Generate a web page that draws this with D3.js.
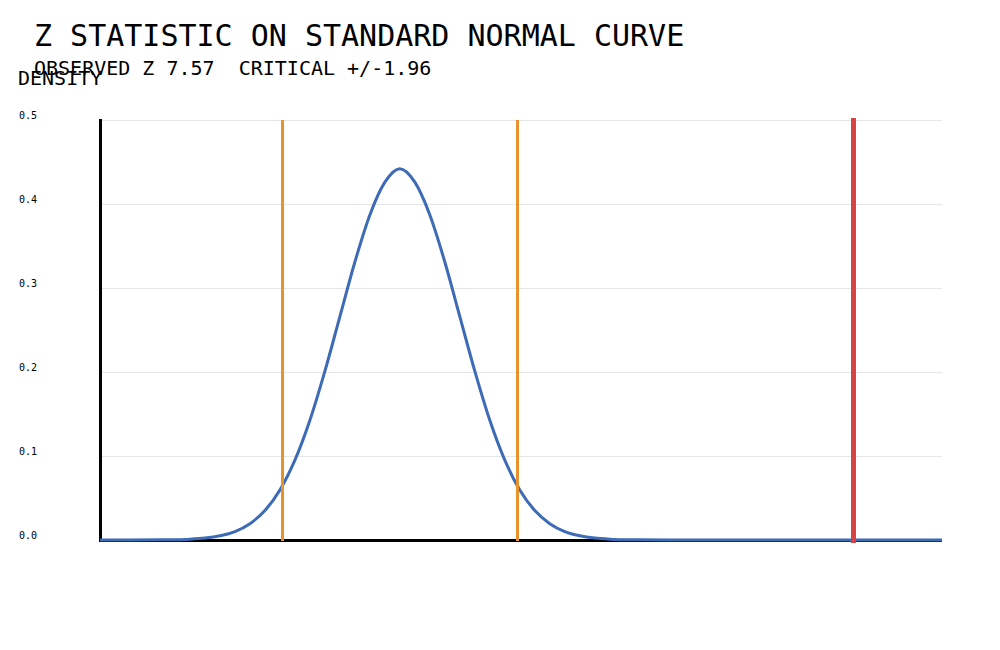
<!DOCTYPE html>
<html>
<head>
<meta charset="utf-8">
<script src="https://cdn.jsdelivr.net/npm/d3@7"></script>
<style>
  body { margin: 0; background: #fff; }
  svg { display: block; font-family: "DejaVu Sans Mono", monospace; }
  svg text { white-space: pre; }
  svg line { shape-rendering: crispEdges; }
</style>
</head>
<body>
<svg width="1000" height="650"></svg>
<script>
// chart values
let titleText = "Z STATISTIC ON STANDARD NORMAL CURVE"
let subtitleText = "OBSERVED Z 7.57  CRITICAL +/-1.96"
let yLabel = "DENSITY"
let observedZ = 7.57
let criticalZ = [-1.96, 1.96]
let xDomain = [-5, 9.04]
let yTicks = [0.0, 0.1, 0.2, 0.3, 0.4, 0.5]

// curve (z, density)
let curveZ = [-5, -4.5, -4, -3.75, -3.5, -3.25, -3, -2.75, -2.5, -2.25, -2, -1.75, -1.5, -1.25, -1, -0.75, -0.5, -0.25, 0,
              0.25, 0.5, 0.75, 1, 1.25, 1.5, 1.75, 2, 2.25, 2.5, 2.75, 3, 3.25, 3.5, 3.75, 4, 4.5, 5, 6, 7, 8, 9.04]
let curveDensity = [0, 0, 0.0002, 0.0004, 0.001, 0.0023, 0.005, 0.010, 0.0194, 0.035, 0.0595, 0.095, 0.1425, 0.201, 0.266, 0.331, 0.387, 0.426, 0.442,
                    0.426, 0.387, 0.331, 0.266, 0.201, 0.1425, 0.095, 0.0595, 0.035, 0.0194, 0.010, 0.005, 0.0023, 0.001, 0.0004, 0.0002, 0, 0, 0, 0, 0, 0]

let margin = { top: 120, bottom: 110, left: 100, right: 58 }
let svg = d3.select('svg')
let width = 1000, height = 650
let innerWidth = width - margin.left - margin.right
let innerHeight = height - margin.top - margin.bottom

const xScale = d3.scaleLinear().domain(xDomain).range([0, innerWidth])
const yScale = d3.scaleLinear().domain([0, 0.5]).range([innerHeight, 0])

const g = svg.append('g').attr('transform', `translate(${margin.left},${margin.top})`)

// gridlines
g.selectAll('.grid').data(yTicks.slice(1)).enter().append('line')
    .attr('x1', 2).attr('x2', innerWidth)
    .attr('y1', d => yScale(d)).attr('y2', d => yScale(d))
    .style('stroke', '#e6e6e6').style('stroke-width', 1)

// tick labels
g.selectAll('.tick-label').data(yTicks).enter().append('text')
    .attr('x', 19 - margin.left)
    .attr('y', d => yScale(d) - 1)
    .style('font-size', '10px')
    .text(d => d3.format('.1f')(d))

// axes lines
g.append('line').attr('x1', 0).attr('x2', 0).attr('y1', -1).attr('y2', innerHeight + 2)
    .style('stroke', '#000').style('stroke-width', 3)
g.append('line').attr('x1', 0).attr('x2', innerWidth).attr('y1', innerHeight).attr('y2', innerHeight)
    .style('stroke', '#000').style('stroke-width', 3)

const curveData = curveZ.map((z, i) => ({ z: z, d: curveDensity[i] }))
const line = d3.line().x(d => xScale(d.z)).y(d => yScale(d.d)).curve(d3.curveMonotoneX)
g.append('path').datum(curveData).attr('d', line)
    .style('fill', 'none').style('stroke', '#3d6bb5').style('stroke-width', 3)

// critical lines
g.selectAll('.crit').data(criticalZ).enter().append('line')
    .attr('x1', d => xScale(d)).attr('x2', d => xScale(d))
    .attr('y1', 0).attr('y2', innerHeight + 1)
    .style('stroke', '#e8922e').style('stroke-width', 3)

// observed
g.append('line')
    .attr('x1', xScale(observedZ)).attr('x2', xScale(observedZ))
    .attr('y1', -2).attr('y2', innerHeight + 3)
    .style('stroke', '#d84343').style('stroke-width', 5)

// texts
svg.append('text').attr('x', 34).attr('y', 46).style('font-size', '30px').text(titleText)
svg.append('text').attr('x', 34).attr('y', 75).style('font-size', '20px').text(subtitleText)
svg.append('text').attr('x', 18).attr('y', 85).style('font-size', '20px').text(yLabel)
</script>
</body>
</html>
